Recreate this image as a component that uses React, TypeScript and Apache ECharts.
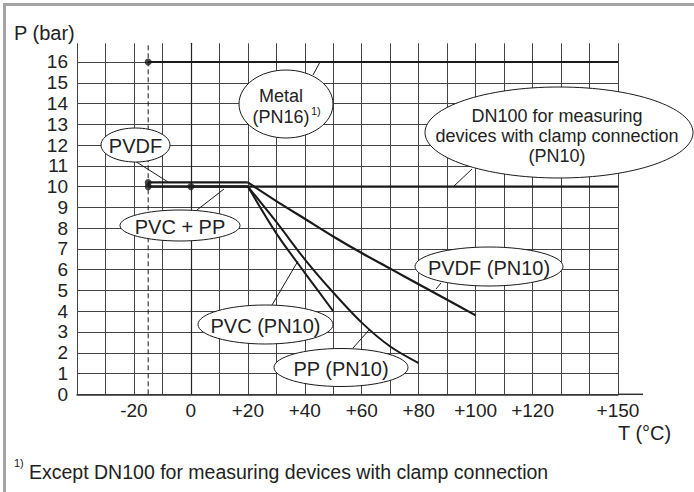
import React, { useEffect, useRef } from "react";
import * as echarts from "echarts";

// ---- data ----
const xTickLabels = [-20, 0, 20, 40, 60, 80, 100, 120, 150];
const yTickLabels = [0, 1, 2, 3, 4, 5, 6, 7, 8, 9, 10, 11, 12, 13, 14, 15, 16];

const minTempT = [-15, -15];
const minTempP = [0, 16.9];

const metalT = [-15, 150];
const metalP = [16, 16];

const clampT = [-15, 150];
const clampP = [10, 10];

const pvdfT = [-15, 20, 30, 40, 50, 60, 70, 80, 90, 100];
const pvdfP = [10.2, 10.2, 9.3, 8.45, 7.6, 6.8, 6.05, 5.3, 4.55, 3.8];

const pvcT = [-15, 20, 30, 40, 50];
const pvcP = [10, 10, 7.75, 5.85, 4.0];

const ppT = [0, 20, 30, 40, 50, 60, 70, 80];
const ppP = [10, 10, 8.3, 6.5, 4.9, 3.45, 2.3, 1.5];

const dotT = [-15, -15, -15, 0];
const dotP = [16, 10.2, 10, 10];

const zip = (a: number[], b: number[]) => a.map((v, i) => [v, b[i]]);

const FONT = "'Liberation Sans', Arial, Helvetica, sans-serif";
const INK = "#1a1a1a";
const TXT = "#222";

export default function App() {
  const ref = useRef<HTMLDivElement>(null);

  useEffect(() => {
    if (!ref.current) return;
    const chart = echarts.init(ref.current, undefined, { renderer: "svg" });

    const lineSeries = (name: string, data: number[][], width: number, extra: any = {}) => ({
      name,
      type: "line",
      data,
      showSymbol: false,
      symbol: "none",
      lineStyle: { color: INK, width },
      z: 5,
      silent: true,
      ...extra,
    });

    // flat part (sharp knee) + smooth decay part for each plastic
    const flatAndCurve = (name: string, t: number[], p: number[], width: number) => {
      const pts = zip(t, p);
      return [
        lineSeries(name + " flat", pts.slice(0, 2), width),
        lineSeries(name, pts.slice(1), width, { smooth: 0.3 }),
      ];
    };

    const ellipses = [
      { text: "PVDF", cx: 135.5, cy: 145, rx: 34.5, ry: 17, fs: 20, l: [135, 161, 168, 182] },
      { text: "PVC + PP", cx: 180, cy: 225.5, rx: 60, ry: 15.5, fs: 20, l: [197, 210, 224, 189] },
      { text: "Metal\n(PN16)", cx: 286, cy: 104, rx: 47, ry: 34, fs: 18, l: [313, 75, 320, 62], tx: 281, ty: 106, lh: 21 },
      {
        text: "DN100 for measuring\ndevices with clamp connection\n(PN10)",
        cx: 559, cy: 132.5, rx: 134, ry: 45.5, fs: 18, l: [472, 169, 453, 187], tx: 557, ty: 136, lh: 20,
      },
      { text: "PVC (PN10)", cx: 265.5, cy: 324.5, rx: 67.5, ry: 19.5, fs: 20, l: [272, 305, 298, 261] },
      { text: "PP (PN10)", cx: 341, cy: 367.5, rx: 67, ry: 19, fs: 20, l: [353, 348, 369, 330] },
      { text: "PVDF (PN10)", cx: 489, cy: 266.5, rx: 74, ry: 19.5, fs: 20, l: [436, 289, 441, 283] },
    ];

    const graphics: any[] = [];
    ellipses.forEach((e) => {
      graphics.push({
        type: "line",
        z: 50,
        shape: { x1: e.l[0], y1: e.l[1], x2: e.l[2], y2: e.l[3] },
        style: { stroke: INK, lineWidth: 1 },
      });
      graphics.push({
        type: "ellipse",
        z: 60,
        shape: { cx: e.cx, cy: e.cy, rx: e.rx, ry: e.ry },
        style: { fill: "#fff", stroke: INK, lineWidth: 1 },
      });
      graphics.push({
        type: "text",
        z: 70,
        x: e.tx ?? e.cx,
        y: e.ty ?? e.cy + 1,
        style: {
          text: e.text,
          fill: TXT,
          font: `${e.fs}px ${FONT}`,
          align: "center",
          verticalAlign: "middle",
          lineHeight: e.lh ?? e.fs,
        },
      });
    });

    // superscript of the metal label
    graphics.push({
      type: "text",
      z: 70,
      x: 311,
      y: 111,
      style: { text: "1)", fill: TXT, font: `11px ${FONT}`, align: "left", verticalAlign: "middle" },
    });

    // frame
    graphics.push({
      type: "rect",
      z: 1,
      shape: { x: 4.5, y: 4.5, width: 720, height: 520 },
      style: { fill: "none", stroke: "#a3a3a3", lineWidth: 3 },
    });

    // axis titles
    graphics.push({
      type: "text",
      z: 70,
      x: 14,
      y: 33,
      style: { text: "P (bar)", fill: TXT, font: `20px ${FONT}`, align: "left", verticalAlign: "middle" },
    });
    graphics.push({
      type: "text",
      z: 70,
      x: 618,
      y: 433,
      style: { text: "T (°C)", fill: TXT, font: `20px ${FONT}`, align: "left", verticalAlign: "middle" },
    });

    // footnote
    graphics.push({
      type: "text",
      z: 70,
      x: 14,
      y: 463,
      style: { text: "1)", fill: TXT, font: `11px ${FONT}`, align: "left", verticalAlign: "middle" },
    });
    graphics.push({
      type: "text",
      z: 70,
      x: 29,
      y: 472,
      style: {
        text: "Except DN100 for measuring devices with clamp connection",
        fill: TXT,
        font: `19.5px ${FONT}`,
        align: "left",
        verticalAlign: "middle",
      },
    });

    // x axis extension beyond +150
    graphics.push({
      type: "line",
      z: 40,
      shape: { x1: 618, y1: 394.3, x2: 643, y2: 394.3 },
      style: { stroke: "#333", lineWidth: 1.5 },
    });

    chart.setOption({
      animation: false,
      backgroundColor: "#fff",
      textStyle: { fontFamily: FONT },
      grid: { left: 77, right: 76, top: 43.3, bottom: 97.7, containLabel: false },
      xAxis: {
        type: "value",
        min: -40,
        max: 150,
        interval: 10,
        axisLine: { show: true, lineStyle: { color: "#333", width: 1.5 } },
        axisTick: { show: false },
        axisLabel: {
          margin: 7,
          fontSize: 19,
          color: TXT,
          fontFamily: FONT,
          formatter: (v: number) => (xTickLabels.includes(v) ? (v > 0 ? "+" + v : String(v)) : ""),
        },
        splitLine: { show: true, lineStyle: { color: "#444", width: 1 } },
      },
      yAxis: {
        type: "value",
        min: 0,
        max: 16.9,
        interval: 1,
        axisLine: { show: true, lineStyle: { color: "#222", width: 1.2 } },
        axisTick: { show: false },
        axisLabel: {
          margin: 9,
          fontSize: 19,
          color: TXT,
          fontFamily: FONT,
          formatter: (v: number) => (yTickLabels.includes(v) ? String(v) : ""),
        },
        splitLine: { show: true, showMaxLine: false, lineStyle: { color: "#444", width: 1 } },
      },
      series: [
        lineSeries("minT", zip(minTempT, minTempP), 1, {
          lineStyle: { color: INK, width: 1, type: [5, 3] },
          z: 4,
        }),
        lineSeries("Metal (PN16)", zip(metalT, metalP), 2.2),
        lineSeries("DN100 clamp (PN10)", zip(clampT, clampP), 2.2),
        ...flatAndCurve("PVDF (PN10)", pvdfT, pvdfP, 2.2),
        ...flatAndCurve("PVC (PN10)", pvcT, pvcP, 2),
        ...flatAndCurve("PP (PN10)", ppT, ppP, 2),
        {
          name: "dots",
          type: "scatter",
          data: zip(dotT, dotP),
          symbolSize: 7,
          itemStyle: { color: INK },
          z: 6,
          silent: true,
        },
      ],
      graphic: graphics,
    });

    return () => chart.dispose();
  }, []);

  return (
    <div
      ref={ref}
      style={{ position: "fixed", left: 0, top: 0, width: 694, height: 492, background: "#fff" }}
    />
  );
}
